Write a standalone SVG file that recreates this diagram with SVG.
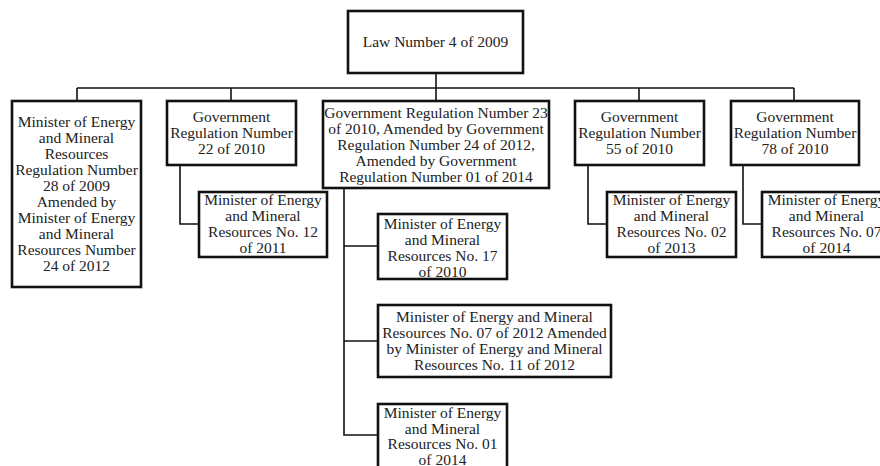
<svg xmlns="http://www.w3.org/2000/svg" width="880" height="466" viewBox="0 0 880 466">
<style>
  .box { fill: #fff; stroke: #111; stroke-width: 2.6; }
  .conn { fill: none; stroke: #111; stroke-width: 1.6; }
  .t { font-family: 'Liberation Serif', 'Times New Roman', serif; font-size: 15.5px; fill: #222; text-anchor: middle; }
</style>
<rect width="880" height="466" fill="#fff"/>
<g id="connectors">
  <path class="conn" d="M436 73 V101"/>
  <path class="conn" d="M77 88 H794"/>
  <path class="conn" d="M77 88 V101"/>
  <path class="conn" d="M231 88 V101"/>
  <path class="conn" d="M639 88 V101"/>
  <path class="conn" d="M794 88 V101"/>
  <path class="conn" d="M180 165 V224 H199"/>
  <path class="conn" d="M344 188 V435 H378"/>
  <path class="conn" d="M344 246 H378"/>
  <path class="conn" d="M344 341 H378"/>
  <path class="conn" d="M588 165 V224 H607"/>
  <path class="conn" d="M743 165 V224 H762"/>
</g>
<g class="t" font-family="Liberation Serif, Times New Roman, serif">
<g id="law">
  <rect class="box" x="348" y="11" width="175" height="62"/>
  <text x="435.5" y="47">Law Number 4 of 2009</text>
</g>
<g id="esdm-28-2009">
  <rect class="box" x="12" y="101" width="129" height="186"/>
  <text x="76.5" y="127">Minister of Energy</text>
  <text x="76.5" y="143">and Mineral</text>
  <text x="76.5" y="159">Resources</text>
  <text x="76.5" y="175">Regulation Number</text>
  <text x="76.5" y="191">28 of 2009</text>
  <text x="76.5" y="207">Amended by</text>
  <text x="76.5" y="223">Minister of Energy</text>
  <text x="76.5" y="239">and Mineral</text>
  <text x="76.5" y="255">Resources Number</text>
  <text x="76.5" y="271">24 of 2012</text>
</g>
<g id="gr-22-2010">
  <rect class="box" x="167" y="101" width="129" height="64"/>
  <text x="231.5" y="122">Government</text>
  <text x="231.5" y="138">Regulation Number</text>
  <text x="231.5" y="154">22 of 2010</text>
</g>
<g id="esdm-12-2011">
  <rect class="box" x="199" y="192" width="128" height="65"/>
  <text x="263" y="205">Minister of Energy</text>
  <text x="263" y="221">and Mineral</text>
  <text x="263" y="237">Resources No. 12</text>
  <text x="263" y="253">of 2011</text>
</g>
<g id="gr-23-2010">
  <rect class="box" x="323" y="101" width="226" height="87"/>
  <text x="436" y="118">Government Regulation Number 23</text>
  <text x="436" y="134">of 2010, Amended by Government</text>
  <text x="436" y="150">Regulation Number 24 of 2012,</text>
  <text x="436" y="166">Amended by Government</text>
  <text x="436" y="182">Regulation Number 01 of 2014</text>
</g>
<g id="esdm-17-2010">
  <rect class="box" x="378" y="214" width="129" height="65"/>
  <text x="442.5" y="228.5">Minister of Energy</text>
  <text x="442.5" y="244.5">and Mineral</text>
  <text x="442.5" y="260.5">Resources No. 17</text>
  <text x="442.5" y="276.5">of 2010</text>
</g>
<g id="esdm-07-2012">
  <rect class="box" x="378" y="305" width="233" height="72"/>
  <text x="494.5" y="322">Minister of Energy and Mineral</text>
  <text x="494.5" y="338">Resources No. 07 of 2012 Amended</text>
  <text x="494.5" y="354">by Minister of Energy and Mineral</text>
  <text x="494.5" y="370">Resources No. 11 of 2012</text>
</g>
<g id="esdm-01-2014">
  <rect class="box" x="378" y="404" width="129" height="66"/>
  <text x="442.5" y="418">Minister of Energy</text>
  <text x="442.5" y="433.5">and Mineral</text>
  <text x="442.5" y="449">Resources No. 01</text>
  <text x="442.5" y="464.5">of 2014</text>
</g>
<g id="gr-55-2010">
  <rect class="box" x="575" y="101" width="129" height="64"/>
  <text x="639.5" y="122">Government</text>
  <text x="639.5" y="138">Regulation Number</text>
  <text x="639.5" y="154">55 of 2010</text>
</g>
<g id="esdm-02-2013">
  <rect class="box" x="607" y="192" width="129" height="65"/>
  <text x="671.5" y="205">Minister of Energy</text>
  <text x="671.5" y="221">and Mineral</text>
  <text x="671.5" y="237">Resources No. 02</text>
  <text x="671.5" y="253">of 2013</text>
</g>
<g id="gr-78-2010">
  <rect class="box" x="731" y="101" width="128" height="64"/>
  <text x="795" y="122">Government</text>
  <text x="795" y="138">Regulation Number</text>
  <text x="795" y="154">78 of 2010</text>
</g>
<g id="esdm-07-2014">
  <rect class="box" x="762" y="192" width="129" height="65"/>
  <text x="826.5" y="205">Minister of Energy</text>
  <text x="826.5" y="221">and Mineral</text>
  <text x="826.5" y="237">Resources No. 07</text>
  <text x="826.5" y="253">of 2014</text>
</g>
</g>
</svg>
